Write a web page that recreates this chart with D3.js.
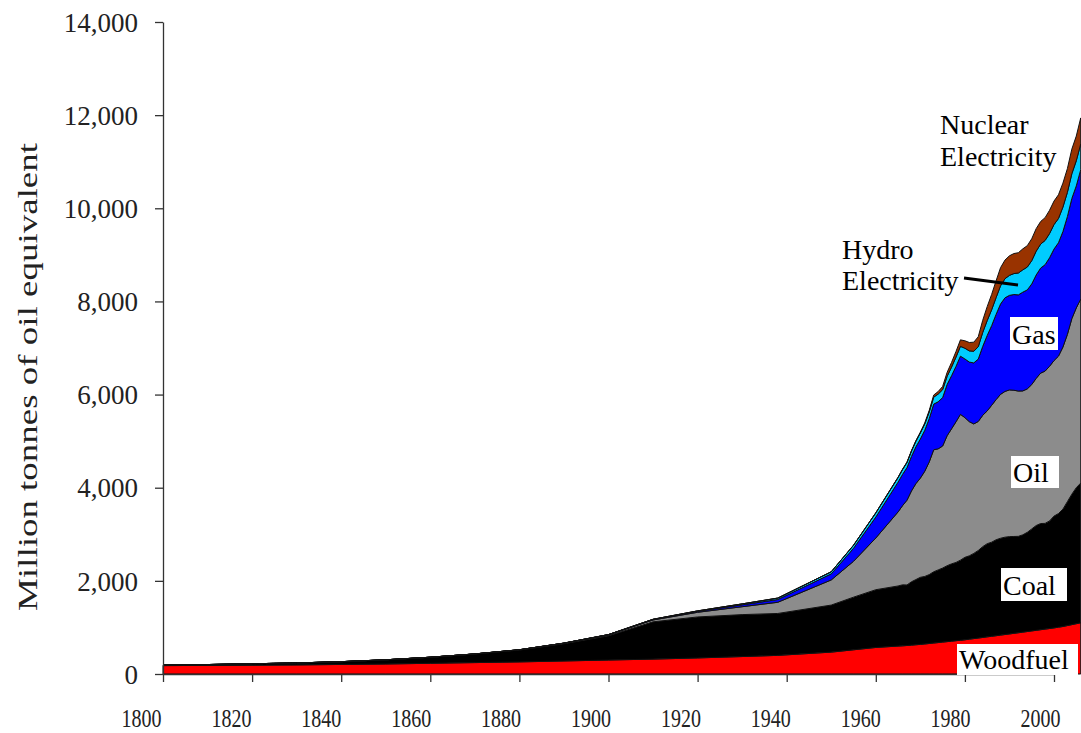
<!DOCTYPE html>
<html>
<head>
<meta charset="utf-8">
<script src="https://cdn.jsdelivr.net/npm/d3@7"></script>
<style>
    body { margin: 0; background: #fff; }
    #chart svg { display: block; }
    text { font-family: "Liberation Serif", "Times New Roman", serif; }
</style>
</head>
<body>
<div id="chart"></div>
<script>

// world primary energy consumption by source, million tonnes of oil equivalent

let years = [1800, 1810, 1820, 1830, 1840, 1850, 1860, 1870, 1880, 1890, 1900, 1910, 1920, 1930, 1938, 1950, 1955, 1960,
    1965, 1966, 1967, 1968, 1969, 1970, 1971, 1972, 1973, 1974, 1975, 1976, 1977, 1978, 1979, 1980, 1981, 1982, 1983, 1984,
    1985, 1986, 1987, 1988, 1989, 1990, 1991, 1992, 1993, 1994, 1995, 1996, 1997, 1998, 1999, 2000, 2001, 2002, 2003, 2004,
    2005, 2006];

let woodfuel = [180, 185, 190, 195, 205, 215, 230, 245, 260, 280, 300, 320, 345, 375, 400, 470, 520, 570,
    600, 605, 612, 620, 628, 636, 645, 655, 665, 675, 685, 695, 705, 715, 725, 735, 748, 760, 772, 785,
    798, 810, 822, 835, 848, 860, 873, 886, 899, 912, 925, 938, 951, 964, 977, 990, 1005, 1020, 1040, 1060,
    1080, 1100];

let coal = [10, 18, 30, 42, 60, 90, 130, 185, 255, 370, 520, 800, 880, 900, 900, 1010, 1130, 1240,
    1290, 1310, 1300, 1360, 1400, 1440, 1450, 1480, 1530, 1560, 1590, 1630, 1660, 1680, 1720, 1770, 1790, 1830, 1880, 1950,
    2000, 2020, 2060, 2080, 2090, 2090, 2080, 2070, 2090, 2130, 2190, 2250, 2280, 2270, 2310, 2400, 2440, 2520, 2660, 2800,
    2920, 3000];

let oil = [0, 0, 0, 0, 0, 0, 0, 1, 5, 10, 20, 40, 100, 170, 240, 540, 770, 1110,
    1590, 1700, 1820, 1950, 2060, 2130, 2260, 2420, 2620, 2600, 2620, 2790, 2900, 3020, 3130, 3000, 2880, 2780, 2770, 2820,
    2850, 2940, 3010, 3090, 3130, 3150, 3140, 3120, 3090, 3080, 3100, 3160, 3230, 3270, 3320, 3340, 3380, 3480, 3590, 3770,
    3860, 3950];

let gas = [0, 0, 0, 0, 0, 0, 0, 0, 1, 3, 5, 10, 20, 40, 60, 130, 280, 450,
    640, 670, 700, 740, 790, 840, 880, 930, 980, 1010, 1040, 1100, 1140, 1190, 1250, 1260, 1280, 1310, 1340, 1480,
    1620, 1710, 1830, 1940, 2010, 2030, 2055, 2065, 2120, 2125, 2160, 2220, 2255, 2285, 2330, 2395, 2435, 2480, 2530, 2580,
    2620, 2780];

let hydro = [0, 0, 0, 0, 0, 0, 0, 0, 0, 0, 2, 5, 10, 20, 30, 45, 65, 90,
    100, 105, 110, 115, 120, 130, 135, 145, 150, 165, 170, 175, 185, 200, 210, 230, 240, 250, 265, 300,
    320, 340, 360, 390, 410, 430, 450, 470, 480, 490, 500, 510, 515, 520, 520, 525, 520, 525, 520, 530,
    540, 550];

let nuclear = [0, 0, 0, 0, 0, 0, 0, 0, 0, 0, 0, 0, 0, 0, 0, 0, 0, 1,
    5, 7, 9, 11, 13, 18, 25, 33, 45, 55, 70, 85, 100, 120, 140, 160, 180, 195, 215, 260,
    300, 330, 360, 390, 400, 420, 430, 435, 450, 460, 470, 485, 485, 490, 500, 505, 510, 515, 510, 530,
    530, 560];

let sources = ['Woodfuel', 'Coal', 'Oil', 'Gas', 'Hydro', 'Nuclear'];
let sourceColors = ['#ff0000', '#000000', '#8c8c8c', '#0000ff', '#00ccff', '#993300'];

let xTicks = [1800, 1820, 1840, 1860, 1880, 1900, 1920, 1940, 1960, 1980, 2000];
let yTicks = [0, 2000, 4000, 6000, 8000, 10000, 12000, 14000];


class StackedAreaChart {

    constructor(parentElement, data) {
        this.parentElement = parentElement;
        this.data = data;

        this.initVis()
    }

    initVis() {

        let vis = this;

        vis.width = 1081;
        vis.height = 733;

        vis.svg = d3.select('#' + vis.parentElement).append('svg')
            .attr('width', vis.width)
            .attr('height', vis.height);

        // scales
        vis.xScale = d3.scaleLinear()
            .domain([1800, 2000])
            .range([163, 1054]);

        vis.yScale = d3.scaleLinear()
            .domain([0, 14000])
            .range([674, 22]);

        vis.colorScale = d3.scaleOrdinal()
            .domain(sources)
            .range(sourceColors);

        vis.stack = d3.stack().keys(sources);

        vis.area = d3.area()
            .x(d => vis.xScale(d.data.year))
            .y0(d => vis.yScale(d[0]))
            .y1(d => vis.yScale(d[1]));

        vis.areaGroup = vis.svg.append('g').attr('class', 'areas');

        // axis groups
        vis.xAxisGroup = vis.svg.append('g')
            .attr('class', 'x-axis axis')
            .attr('transform', 'translate(0, 674)');

        vis.yAxisGroup = vis.svg.append('g')
            .attr('class', 'y-axis axis')
            .attr('transform', 'translate(163, 0)');

        // vertical axis title
        vis.svg.append('text')
            .attr('transform', 'translate(37, 377) rotate(-90)')
            .attr('text-anchor', 'middle')
            .attr('textLength', 468)
            .attr('lengthAdjust', 'spacingAndGlyphs')
            .style('font-size', '27px')
            .style('fill', '#222')
            .text('Million tonnes of oil equivalent');

        this.wrangleData()
    }

    wrangleData() {

        let vis = this;

        vis.stacked = vis.stack(vis.data);

        vis.updateVis()
    }

    updateVis() {

        let vis = this;

        vis.areaGroup.selectAll('.layer')
            .data(vis.stacked)
            .enter()
            .append('path')
            .attr('class', 'layer')
            .attr('d', vis.area)
            .attr('fill', d => vis.colorScale(d.key))
            .attr('stroke', '#111')
            .attr('stroke-width', 1)
            .attr('stroke-linejoin', 'round');

        // axes
        vis.xAxisGroup
            .call(d3.axisBottom(vis.xScale)
                .tickValues(xTicks)
                .tickSize(8)
                .tickSizeOuter(0)
                .tickFormat(d3.format('d')));

        // labels sit a little left of their ticks and are drawn narrow, as in the original
        vis.xAxisGroup.selectAll('text')
            .attr('y', 53)
            .attr('dy', 0)
            .attr('x', d => -22 + (d - 1800) * 0.04)
            .attr('textLength', 40)
            .attr('lengthAdjust', 'spacingAndGlyphs')
            .style('font-size', '26px')
            .style('fill', '#222');

        vis.yAxisGroup
            .call(d3.axisLeft(vis.yScale)
                .tickValues(yTicks)
                .tickSize(8)
                .tickSizeOuter(0)
                .tickFormat(d3.format(',')));

        vis.yAxisGroup.selectAll('text')
            .attr('x', -25)
            .attr('dy', '0.34em')
            .style('font-size', '27px')
            .style('fill', '#222');

        vis.svg.selectAll('.axis path, .axis line')
            .attr('stroke', '#333')
            .attr('stroke-width', 1.3);

        // series labels
        let boxed = [
            {text: 'Gas', x: 1010, y: 317, w: 48, h: 33},
            {text: 'Oil', x: 1011, y: 456, w: 48, h: 32},
            {text: 'Coal', x: 1001, y: 568, w: 66, h: 33},
            {text: 'Woodfuel', x: 957, y: 644, w: 121, h: 31}
        ];

        let labels = vis.svg.append('g').attr('class', 'labels');

        boxed.forEach(function (b) {
            labels.append('rect')
                .attr('x', b.x)
                .attr('y', b.y)
                .attr('width', b.w)
                .attr('height', b.h)
                .attr('fill', 'white');
            labels.append('text')
                .attr('x', b.x + 2)
                .attr('y', b.y + b.h - 6)
                .style('font-size', '28px')
                .text(b.text);
        });

        let plain = [
            {text: 'Nuclear', x: 940, y: 134},
            {text: 'Electricity', x: 940, y: 166},
            {text: 'Hydro', x: 842, y: 259},
            {text: 'Electricity', x: 842, y: 290}
        ];

        labels.selectAll('.plain-label')
            .data(plain)
            .enter()
            .append('text')
            .attr('class', 'plain-label')
            .attr('x', d => d.x)
            .attr('y', d => d.y)
            .style('font-size', '28px')
            .text(d => d.text);

        // pointer from the hydro label
        labels.append('line')
            .attr('x1', 964)
            .attr('y1', 278)
            .attr('x2', 1018)
            .attr('y2', 285)
            .attr('stroke', 'black')
            .attr('stroke-width', 3);
    }
}

let energyData = years.map((year, i) => ({
    year: year,
    Woodfuel: woodfuel[i],
    Coal: coal[i],
    Oil: oil[i],
    Gas: gas[i],
    Hydro: hydro[i],
    Nuclear: nuclear[i]
}));

let energyChart = new StackedAreaChart('chart', energyData);

</script>
</body>
</html>
